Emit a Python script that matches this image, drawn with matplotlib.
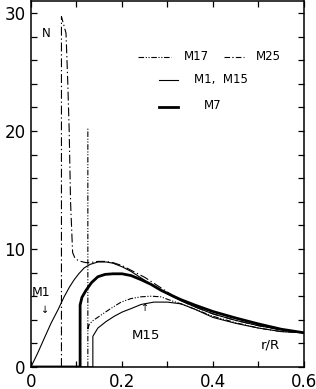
import matplotlib.pyplot as plt
from matplotlib.ticker import MultipleLocator

nan = float("nan")

# Buoyancy frequency N vs r/R for the models
m1_x = [0, 0.015, 0.03, 0.044, 0.06, 0.073, 0.085, 0.095, 0.105, 0.117, 0.13, 0.147,
        0.165, 0.18, 0.2, 0.22, 0.24, 0.26, 0.286, 0.31, 0.33, 0.36, 0.4, 0.45, 0.5, 0.55, 0.6]
m1_y = [0, 1.2, 2.5, 3.7, 4.9, 5.96, 6.8, 7.4, 7.9, 8.4, 8.7, 8.9,
        8.9, 8.8, 8.5, 8.1, 7.6, 7.1, 6.5, 6.0, 5.6, 5.1, 4.5, 3.95, 3.5, 3.15, 2.9]

m7_x = [0, 0.108, 0.108, 0.112, 0.121, 0.133, 0.147, 0.163, 0.18, 0.2, 0.22, 0.242,
        0.264, 0.286, 0.31, 0.33, 0.36, 0.4, 0.45, 0.5, 0.55, 0.6]
m7_y = [0, 0, 5.25, 5.9, 6.5, 7.15, 7.65, 7.85, 7.9, 7.9, 7.75, 7.4,
        7.0, 6.5, 6.05, 5.7, 5.25, 4.7, 4.15, 3.65, 3.2, 2.9]

m15_x = [0, 0.136, 0.136, 0.147, 0.165, 0.183, 0.2, 0.22, 0.242, 0.27, 0.3, 0.33,
         0.36, 0.4, 0.45, 0.5, 0.55, 0.6]
m15_y = [0, 0, 2.6, 3.3, 3.85, 4.3, 4.65, 4.95, 5.3, 5.5, 5.5, 5.35,
         4.9, 4.2, 3.7, 3.3, 3.0, 2.9]

# spike (0 -> 20.3) then the profile branch
m17_x = [0.125, 0.125, nan, 0.125, 0.128, 0.135, 0.154, 0.175, 0.198, 0.22, 0.242, 0.265, 0.285,
         0.31, 0.33, 0.36, 0.4, 0.45, 0.5, 0.55, 0.6]
m17_y = [0, 20.3, nan, 3.2, 3.6, 3.9, 4.4, 4.95, 5.5, 5.8, 5.95, 6.0, 5.95,
         5.6, 5.35, 4.9, 4.3, 3.75, 3.3, 3.0, 2.9]

m25_x = [0.067, 0.067, 0.077, 0.081, 0.084, 0.087, 0.0915, 0.097, 0.103, 0.11, 0.12,
         0.13, 0.147, 0.165, 0.18, 0.2, 0.22, 0.25, 0.28, 0.31, 0.35, 0.4, 0.45, 0.5, 0.55, 0.6]
m25_y = [0, 29.7, 28.3, 24, 20, 14, 9.7, 9.2, 9.05, 8.95, 8.85,
         8.85, 8.95, 8.95, 8.85, 8.6, 8.2, 7.6, 6.85, 6.1, 5.25, 4.5, 3.95, 3.5, 3.15, 2.9]

plt.rcParams["font.family"] = ["DejaVu Sans"]

fig = plt.figure(figsize=(3.16, 3.89), dpi=100)
ax = fig.add_axes([0.098, 0.0566, 0.864, 0.94])

thin = 0.8
dashdot = [8, 2.5, 1.2, 2.5]
dashdotdot = [5, 1.5, 1, 1.5, 1, 1.5]

ax.plot(m1_x, m1_y, color="black", lw=thin)
ax.plot(m15_x, m15_y, color="black", lw=thin)
ax.plot(m7_x, m7_y, color="black", lw=2.0)
ax.plot(m25_x, m25_y, color="black", lw=thin, dashes=dashdot)
ax.plot(m17_x, m17_y, color="black", lw=thin, dashes=dashdotdot)

# legend drawn by hand, as in the original figure
ax.plot([0.235, 0.308], [26.3, 26.3], color="black", lw=thin, dashes=dashdotdot)
ax.text(0.336, 26.3, "M17", fontsize=8.5, va="center")
ax.plot([0.424, 0.468], [26.3, 26.3], color="black", lw=thin, dashes=[5, 2, 1.2, 2])
ax.text(0.495, 26.3, "M25", fontsize=8.5, va="center")
ax.plot([0.281, 0.323], [24.3, 24.3], color="black", lw=thin)
ax.text(0.358, 24.4, "M1,  M15", fontsize=8.5, va="center")
ax.plot([0.281, 0.323], [22.0, 22.0], color="black", lw=2.0)
ax.text(0.38, 22.2, "M7", fontsize=8.5, va="center")

ax.text(0.033, 28.3, "N", fontsize=8.5, ha="center", va="center")
ax.text(0.527, 1.9, "r/R", fontsize=9.5, ha="center", va="center")
ax.text(0.022, 6.3, "M1", fontsize=9, ha="center", va="center")
ax.text(0.031, 4.8, "\u2193", fontsize=7, ha="center", va="center")
ax.text(0.253, 2.7, "M15", fontsize=9.5, ha="center", va="center")
ax.text(0.25, 5.0, "\u2191", fontsize=7, ha="center", va="center")

ax.set_xlim(0, 0.6)
ax.set_ylim(0, 31)
ax.set_xticks([0, 0.2, 0.4, 0.6])
ax.set_xticklabels(["0", "0.2", "0.4", "0.6"])
ax.set_yticks([0, 10, 20, 30])
ax.xaxis.set_minor_locator(MultipleLocator(0.1))
ax.yaxis.set_minor_locator(MultipleLocator(2))
ax.tick_params(which="both", direction="in", top=True, right=True, length=4.5, width=0.9)
ax.tick_params(labelsize=12, pad=4)
for s in ax.spines.values():
    s.set_linewidth(1.1)

fig.savefig("out.png", dpi=100)
